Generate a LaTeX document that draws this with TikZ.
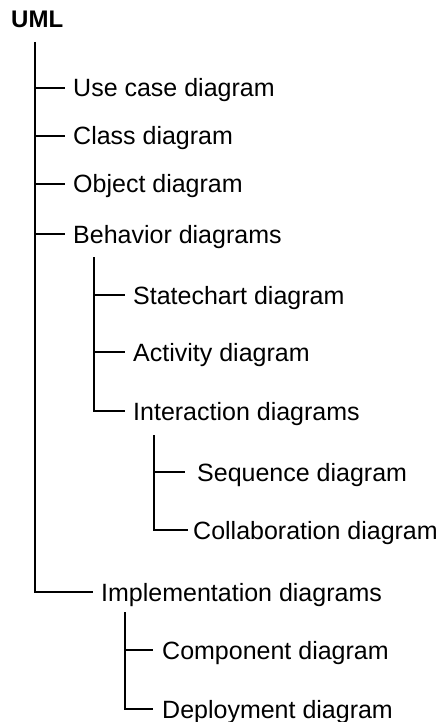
\documentclass[tikz,border=0pt]{standalone}
\usepackage{fontspec}
\setmainfont{Liberation Sans}
\begin{document}
\begin{tikzpicture}[x=1pt,y=-1pt,
  treeline/.style={line width=1.2pt,black},
  item/.style={anchor=west,inner xsep=8pt,inner ysep=0pt,
    text height=18pt,text depth=0pt,font=\fontsize{25}{30}\selectfont},
  rootlabel/.style={anchor=base west,inner sep=0pt,
    font=\fontsize{24}{28}\selectfont\bfseries}]
\useasboundingbox (0,0) rectangle (439,722);

% root
\node[rootlabel] (uml) at (11,28) {UML};
\coordinate (trunk) at (35,42);

% first level
\node[item] (usecase)  at (65,88)  {Use case diagram};
\node[item] (class)    at (65,136) {Class diagram};
\node[item] (object)   at (65,184) {Object diagram};
\node[item] (behavior) at (65,234) {Behavior diagrams};
\node[item] (impl)     at (93,592) {Implementation diagrams};

% behavior branch
\coordinate (btrunk) at (94,257);
\node[item] (state)    at (125,295) {Statechart diagram};
\node[item] (activity) at (125,352) {Activity diagram};
\node[item] (inter)    at (125,411) {Interaction diagrams};

% interaction branch
\coordinate (itrunk) at (154,435);
\node[item,inner xsep=12pt] (seq) at (185,472) {Sequence diagram};
\node[item,inner xsep=5pt] (collab) at (188,530) {Collaboration diagram};

% implementation branch
\coordinate (mtrunk) at (125,612);
\node[item,inner xsep=9pt] (comp)   at (153,650) {Component diagram};
\node[item,inner xsep=9pt] (deploy) at (153,709) {Deployment diagram};

% connectors
\draw[treeline] (trunk) -- (trunk |- impl.west) -- (impl.west);
\foreach \n in {usecase,class,object,behavior}
  \draw[treeline] (trunk |- \n.west) -- (\n.west);

\draw[treeline] (btrunk) -- (btrunk |- inter.west) -- (inter.west);
\foreach \n in {state,activity}
  \draw[treeline] (btrunk |- \n.west) -- (\n.west);

\draw[treeline] (itrunk) -- (itrunk |- collab.west) -- (collab.west);
\draw[treeline] (itrunk |- seq.west) -- (seq.west);

\draw[treeline] (mtrunk) -- (mtrunk |- deploy.west) -- (deploy.west);
\draw[treeline] (mtrunk |- comp.west) -- (comp.west);
\end{tikzpicture}
\end{document}
